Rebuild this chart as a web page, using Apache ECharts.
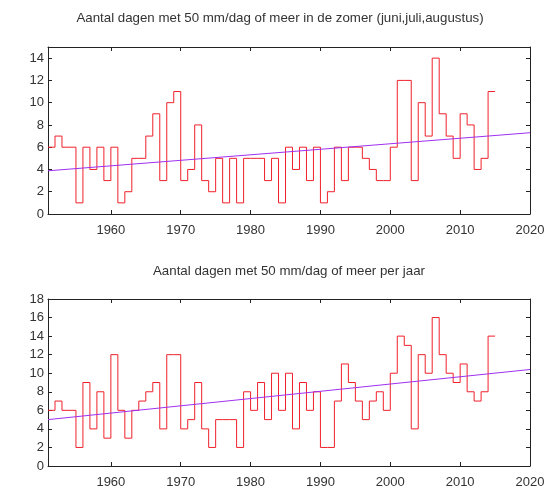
<!DOCTYPE html>
<html>
<head>
<meta charset="utf-8">
<script src="https://cdn.jsdelivr.net/npm/echarts@6/dist/echarts.min.js"></script>
<style>
html,body{margin:0;padding:0;background:#fff;}
#chart{width:557px;height:500px;}
</style>
</head>
<body>
<div id="chart"></div>
<script>
// Year at the start of each step interval
var firstYear = 1951;
// Days with >= 50 mm/day in summer (June, July, August)
var summerValues = [6,7,6,6,1,6,4,6,3,6, 1,2,5,5,7,9,3,10,11,3, 4,8,3,2,5,1,5,1,5,5, 5,3,5,1,6,4,6,3,6,1, 2,6,3,6,6,5,4,3,3,6, 12,12,3,10,7,14,9,7,5,9, 8,4,5,11];
// Days with >= 50 mm/day per year
var yearValues = [6,7,6,6,2,9,4,8,3,12, 6,3,6,7,8,9,4,12,12,4, 5,9,4,2,5,5,5,2,8,6, 9,5,10,6,10,4,9,6,8,2, 2,7,11,9,7,5,7,8,6,10, 14,13,4,12,10,16,12,10,9,11, 8,7,8,14];
// Trend lines (endpoints)
var summerTrend = [[1951, 3.88], [2020, 7.3]];
var yearTrend = [[1951, 5.0], [2020, 10.4]];
// Tick labels
var xTicks = [1960, 1970, 1980, 1990, 2000, 2010, 2020];
var summerYTicks = [0, 2, 4, 6, 8, 10, 12, 14];
var yearYTicks = [0, 2, 4, 6, 8, 10, 12, 14, 16, 18];
var titles = ['Aantal dagen met 50 mm/dag of meer in de zomer (juni,juli,augustus)',
              'Aantal dagen met 50 mm/dag of meer per jaar'];

function stepData(vals) {
  var d = vals.map(function (v, i) { return [firstYear + i, v]; });
  d.push([firstYear + vals.length, vals[vals.length - 1]]);
  return d;
}

var FONT = 'Liberation Sans';
var TXT = '#333';
var FRAME = '#222';
function plain(v) { return String(v); }

function xAx(gi, pos, labels) {
  return {
    type: 'value', gridIndex: gi, position: pos, min: 1951, max: 2020,
    axisLine: {show: true, onZero: false, lineStyle: {color: FRAME, width: 1}},
    axisTick: {show: true, inside: true, length: 4, customValues: xTicks, lineStyle: {color: FRAME}},
    axisLabel: {show: labels, customValues: xTicks, formatter: plain, color: TXT, fontFamily: FONT, fontSize: 13, margin: 10},
    splitLine: {show: false}
  };
}
function yAx(gi, pos, max, ticks, labels) {
  return {
    type: 'value', gridIndex: gi, position: pos, min: 0, max: max,
    axisLine: {show: true, onZero: false, lineStyle: {color: FRAME, width: 1}},
    axisTick: {show: true, inside: true, length: 4, customValues: ticks, lineStyle: {color: FRAME}},
    axisLabel: {show: labels, customValues: ticks, formatter: plain, color: TXT, fontFamily: FONT, fontSize: 13, margin: 4},
    splitLine: {show: false}
  };
}

var chart = echarts.init(document.getElementById('chart'), null, {renderer: 'canvas'});
chart.setOption({
  backgroundColor: '#fff',
  animation: false,
  title: [
    {text: titles[0], left: 280, top: 12, textAlign: 'center', padding: 0,
     textStyle: {fontFamily: FONT, fontSize: 13.3, fontWeight: 'normal', color: TXT}},
    {text: titles[1], left: 289, top: 265, textAlign: 'center', padding: 0,
     textStyle: {fontFamily: FONT, fontSize: 13.3, fontWeight: 'normal', color: TXT}}
  ],
  grid: [
    {left: 48, right: 27, top: 47, height: 167},
    {left: 48, right: 27, top: 299, height: 167}
  ],
  xAxis: [xAx(0, 'bottom', true), xAx(0, 'top', false), xAx(1, 'bottom', true), xAx(1, 'top', false)],
  yAxis: [yAx(0, 'left', 15, summerYTicks, true), yAx(0, 'right', 15, summerYTicks, false),
          yAx(1, 'left', 18, yearYTicks, true), yAx(1, 'right', 18, yearYTicks, false)],
  series: [
    {type: 'line', xAxisIndex: 0, yAxisIndex: 0, step: 'end', data: stepData(summerValues),
     symbol: 'none', lineStyle: {color: '#f0202a', width: 1}, z: 2},
    {type: 'line', xAxisIndex: 0, yAxisIndex: 0, data: summerTrend,
     symbol: 'none', lineStyle: {color: '#a030f0', width: 1}, z: 3},
    {type: 'line', xAxisIndex: 2, yAxisIndex: 2, step: 'end', data: stepData(yearValues),
     symbol: 'none', lineStyle: {color: '#f0202a', width: 1}, z: 2},
    {type: 'line', xAxisIndex: 2, yAxisIndex: 2, data: yearTrend,
     symbol: 'none', lineStyle: {color: '#a030f0', width: 1}, z: 3}
  ]
});
</script>
</body>
</html>
